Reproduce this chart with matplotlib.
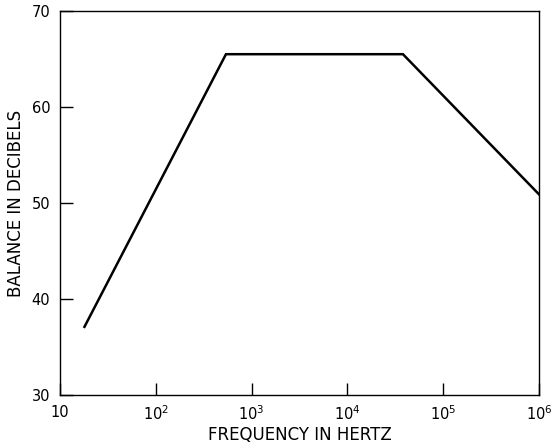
import matplotlib
matplotlib.use("Agg")
from matplotlib import pyplot as plt

# frequency (Hz) and balance (dB)
freq = [18, 540, 38000, 1e6]
balance = [37.1, 65.5, 65.5, 50.9]

xticks = [10, 1e2, 1e3, 1e4, 1e5, 1e6]
xticklabels = ['10', r'10$^{2}$', r'10$^{3}$', r'10$^{4}$', r'10$^{5}$', r'10$^{6}$']
yticks = [30, 40, 50, 60, 70]

plt.rcParams.update({'font.size': 10.5, 'font.family': 'DejaVu Sans',
                     'mathtext.default': 'regular'})
fig = plt.figure(figsize=(5.54, 4.47), dpi=100)
ax = fig.add_axes([60 / 554, 1 - 395 / 447, 479 / 554, 384 / 447])

ax.plot(freq, balance, color='black', linewidth=1.8, solid_joinstyle='miter')

ax.set_xscale('log')
ax.set_xlim(10, 1e6)
ax.set_ylim(30, 70)
ax.set_xticks(xticks)
ax.set_xticklabels(xticklabels)
ax.minorticks_off()
ax.set_yticks(yticks)
ax.tick_params(direction='in', length=9, width=1, pad=7)
ax.tick_params(axis='x', pad=7)
for s in ax.spines.values():
    s.set_linewidth(1)

ax.set_xlabel('FREQUENCY IN HERTZ', fontsize=12, labelpad=2)
ax.set_ylabel('BALANCE IN DECIBELS', fontsize=12, labelpad=5)

plt.savefig('out.png', dpi=100)
